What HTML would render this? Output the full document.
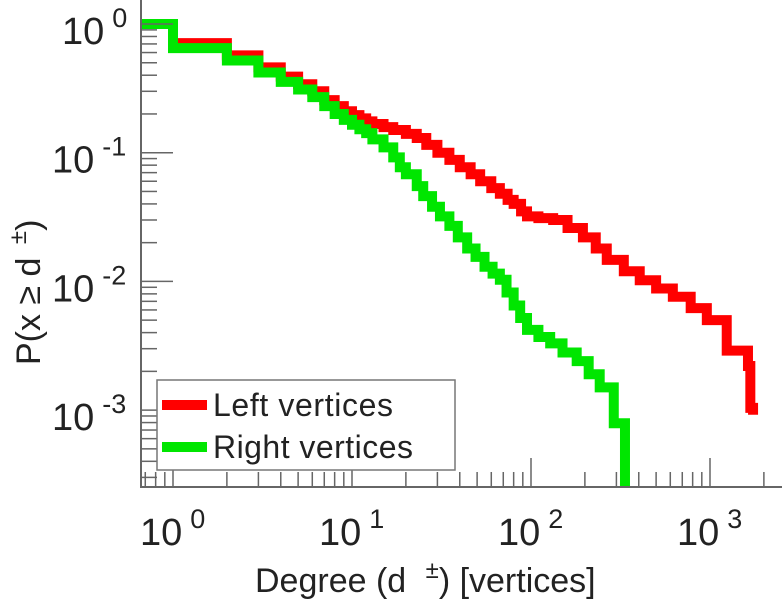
<!DOCTYPE html>
<html><head><meta charset="utf-8"><style>
body{margin:0;background:#fff;}
svg text{font-family:"Liberation Sans",sans-serif;fill:#222;}
</style></head><body>
<svg id="chart" width="784" height="600" xmlns="http://www.w3.org/2000/svg">
<defs><clipPath id="clip"><rect x="140" y="0" width="642" height="487"/></clipPath></defs>
<g id="series" clip-path="url(#clip)"></g>
<g id="axes"></g>
<g>
<rect x="157" y="380" width="298" height="90" fill="#fff" stroke="#777" stroke-width="1.5"/>
<line x1="162" y1="405" x2="207" y2="405" stroke="#ff0000" stroke-width="10"/>
<text x="213" y="416" font-size="32" textLength="180">Left vertices</text>
<line x1="162" y1="447" x2="207" y2="447" stroke="#00e600" stroke-width="10"/>
<text x="213" y="458" font-size="32" textLength="200">Right vertices</text>
</g>
<text x="255" y="592" font-size="34">Degree (d  <tspan dx="10" dy="-14" font-size="24">±</tspan><tspan dy="14">) [vertices]</tspan></text>
<text transform="translate(40,365) rotate(-90)" font-size="34">P(x ≥ d <tspan dx="4" dy="-14" font-size="24">±</tspan><tspan dy="14">)</tspan></text>
</svg>
<script>
const leftDeg=[0.65,1,2,3,4,5,6,7,8,9,10,11,12,13,15,17,20,23,26,30,35,40,46,52,60,67,74,80,88,95,110,133,160,195,230,265,330,405,500,620,780,960,1240,1630,1680,1740];
const leftP=[1,0.71,0.57,0.46,0.39,0.34,0.30,0.256,0.23,0.21,0.196,0.185,0.175,0.167,0.158,0.15,0.14,0.13,0.115,0.1,0.088,0.077,0.068,0.06,0.053,0.048,0.043,0.04,0.035,0.032,0.031,0.030,0.026,0.022,0.018,0.0147,0.012,0.0102,0.0088,0.0076,0.0062,0.005,0.0029,0.0022,0.00104,0.00092];
const rightDeg=[0.65,1,2,3,4,5,6,7,8,9,10,11,12,13,15,17,18.5,20,23,25,28,31,35,39,44,49,55,61,67,73,80,87,95,110,128,150,180,210,242,290,335];
const rightP=[1,0.65,0.52,0.42,0.355,0.31,0.27,0.23,0.2,0.18,0.165,0.152,0.142,0.127,0.11,0.092,0.077,0.068,0.055,0.046,0.038,0.032,0.027,0.022,0.018,0.0155,0.013,0.0115,0.0103,0.0082,0.0065,0.0052,0.0042,0.0037,0.0033,0.0028,0.0024,0.0019,0.0015,0.00079,0.0001];
const xDecades=[0,1,2,3];
const yDecades=[0,-1,-2,-3];
const NS="http://www.w3.org/2000/svg";
function sx(v){return 173+179*Math.log10(v);}
function sy(v){return 24-128.7*Math.log10(v);}
function stairs(d,p){let s="M"+sx(d[0])+","+sy(p[0]);for(let i=0;i<d.length-1;i++){s+=" H"+sx(d[i+1])+" V"+sy(p[i+1]);}return s;}
const ser=document.getElementById('series');
function addLine(d,p,col,name){const e=document.createElementNS(NS,'path');e.setAttribute('d',stairs(d,p));e.setAttribute('fill','none');e.setAttribute('stroke',col);e.setAttribute('stroke-width','10');e.setAttribute('stroke-linejoin','miter');


ser.appendChild(e);}
addLine(leftDeg,leftP,'#ff0000','left-vertices-line');
addLine(rightDeg,rightP,'#00e600','right-vertices-line');
const ax=document.getElementById('axes');
function ln(x1,y1,x2,y2,w){const e=document.createElementNS(NS,'line');e.setAttribute('x1',x1);e.setAttribute('y1',y1);e.setAttribute('x2',x2);e.setAttribute('y2',y2);e.setAttribute('stroke','#666');e.setAttribute('stroke-width',w||1.5);ax.appendChild(e);return e;}
const xa=ln(140,487,782,487,2);


const ya=ln(141,0,141,487,2);


for(let e=-1;e<=3;e++){for(let m=1;m<10;m++){const v=m*Math.pow(10,e);const x=sx(v);if(x<142||x>782)continue;ln(x,487,x,m==1?458:472);}}
for(let e=-4;e<=0;e++){for(let m=1;m<10;m++){const v=m*Math.pow(10,e);const y=sy(v);if(y<2||y>486)continue;ln(141,y,m==1?173:157,y);}}
xDecades.forEach(d=>{const t=document.createElementNS(NS,'text');t.setAttribute('x',sx(Math.pow(10,d))-33);t.setAttribute('y',545);t.setAttribute('font-size','38');t.innerHTML='10<tspan dx="8" dy="-17" font-size="27">'+d+'</tspan>';


ax.appendChild(t);});
yDecades.forEach(d=>{const t=document.createElementNS(NS,'text');t.setAttribute('x',d==0?62:52);t.setAttribute('y',sy(Math.pow(10,d))+20);t.setAttribute('font-size','38');t.innerHTML='10<tspan dx="8" dy="-17" font-size="27">'+d+'</tspan>';


ax.appendChild(t);});
</script>
</body></html>
